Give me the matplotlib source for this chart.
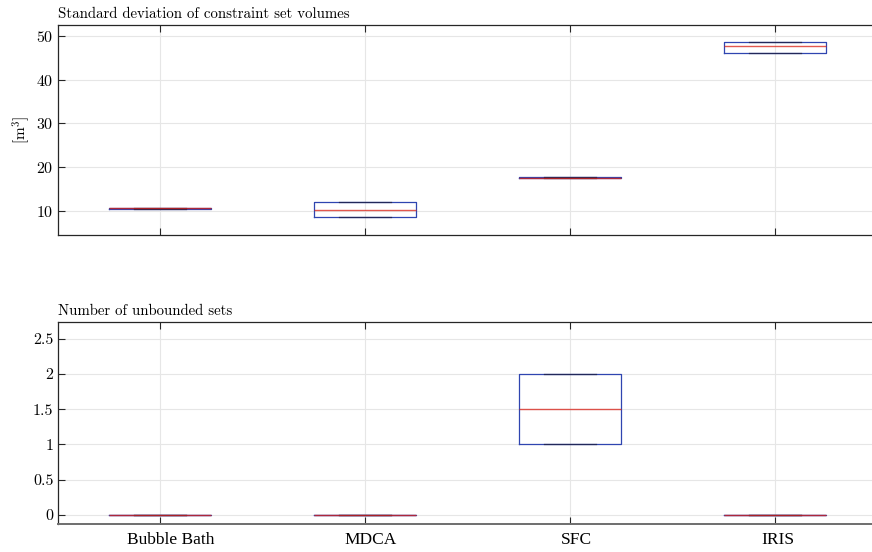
import matplotlib
matplotlib.use("Agg")
import matplotlib.pyplot as plt
from matplotlib import ticker
from matplotlib.transforms import ScaledTranslation

categories = ["Bubble Bath", "MDCA", "SFC", "IRIS"]

# Top panel: standard deviation of constraint set volumes [m^3]
std_q1 = [10.5, 8.7, 17.45, 46.2]
std_med = [10.6, 10.3, 17.55, 47.6]
std_q3 = [10.7, 12.0, 17.65, 48.6]
std_lo = [10.5, 8.7, 17.45, 46.2]
std_hi = [10.7, 12.0, 17.65, 48.6]

# Bottom panel: number of unbounded sets
unb_q1 = [0, 0, 1, 0]
unb_med = [0, 0, 1.5, 0]
unb_q3 = [0, 0, 2, 0]
unb_lo = [0, 0, 1, 0]
unb_hi = [0, 0, 2, 0]

top_yticks = [10, 20, 30, 40, 50]
bot_yticks = [0, 0.5, 1, 1.5, 2, 2.5]

plt.rcParams["font.family"] = ["cmr10", "DejaVu Serif"]
plt.rcParams["mathtext.fontset"] = "cm"
plt.rcParams["axes.formatter.use_mathtext"] = True

fig = plt.figure(figsize=(8.72, 5.52), dpi=100)
ax1 = fig.add_axes([57.5 / 872, 1 - 235 / 552, 820 / 872, 210 / 552])
ax2 = fig.add_axes([57.5 / 872, 1 - 524 / 552, 820 / 872, 202 / 552])

box_col = "#2f45b0"
med_col = (0.85, 0.12, 0.08, 0.75)
axis_col = "#262626"


def draw(ax, q1, med, q3, lo, hi):
    stats = []
    for i, lab in enumerate(categories):
        stats.append(dict(label=lab, q1=q1[i], med=med[i], q3=q3[i],
                          whislo=lo[i], whishi=hi[i], fliers=[]))
    ax.bxp(stats, positions=range(1, len(categories) + 1), widths=0.5,
           showfliers=False, showcaps=True,
           boxprops=dict(color=box_col, linewidth=0.9),
           whiskerprops=dict(color="black", linewidth=0.6, linestyle="--"),
           capprops=dict(color="#22285a", linewidth=0.9),
           medianprops=dict(color=med_col, linewidth=1.0))
    ax.set_xlim(0.5, 4.5)
    ax.grid(True, color="#e6e6e6", linewidth=0.8)
    ax.set_axisbelow(True)
    ax.tick_params(direction="in", top=True, right=False, length=5,
                   width=0.8, color=axis_col, labelsize=11.5, pad=3)
    for sp in ax.spines.values():
        sp.set_color(axis_col)
        sp.set_linewidth(0.9)


draw(ax1, std_q1, std_med, std_q3, std_lo, std_hi)
ax1.set_ylim(4.5, 52.5)
ax1.set_yticks(top_yticks)
ax1.set_xticklabels([])
ax1.set_ylabel(r"[m$^3$]", fontsize=11, labelpad=3)
ax1.set_title("Standard deviation of constraint set volumes", loc="left",
              fontsize=10.7, pad=5)

draw(ax2, unb_q1, unb_med, unb_q3, unb_lo, unb_hi)
ax2.set_ylim(-0.13, 2.74)
ax2.set_yticks(bot_yticks)
ax2.yaxis.set_major_formatter(ticker.FormatStrFormatter("%g"))
ax2.set_xticklabels(categories, family=["Liberation Serif"], fontsize=12.5)
ax2.tick_params(axis="x", pad=6)
label_shift_px = [11, 6, 6, 3]
for lab, dx in zip(ax2.get_xticklabels(), label_shift_px):
    lab.set_transform(lab.get_transform() +
                      ScaledTranslation(dx / 100, 0, fig.dpi_scale_trans))
ax2.spines["bottom"].set_color("#6e6e6e")
ax2.spines["bottom"].set_linewidth(1.4)
ax2.set_title("Number of unbounded sets", loc="left", fontsize=10.7, pad=5)

fig.savefig("out.png", dpi=100)
